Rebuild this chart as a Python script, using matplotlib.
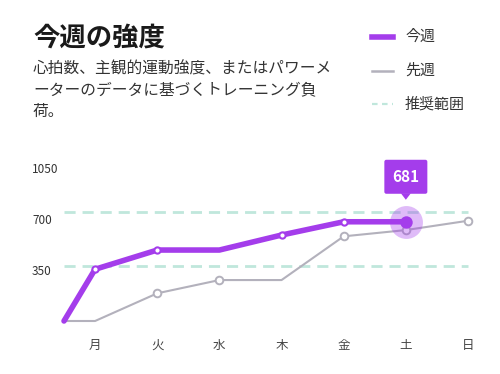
import numpy as np
import matplotlib
matplotlib.use("Agg")
import matplotlib.pyplot as plt
from matplotlib.lines import Line2D
from matplotlib.patches import FancyBboxPatch, Polygon
from matplotlib.transforms import IdentityTransform

plt.rcParams['font.family'] = ['Noto Sans CJK JP', 'DejaVu Sans']

# データ
days = ['月', '火', '水', '木', '金', '土', '日']
this_week = [355, 487, 487, 590, 681, 681]          # 土まで
last_week = [0, 190, 281, 281, 581, 624, 688]
start_value = 0                                      # 週の始まり
range_low, range_high = 375, 750                     # 推奨範囲
y_ticks = [350, 700, 1050]
highlight_idx = 5                                    # 土

PURPLE = '#A43DEB'
GRAY = '#B3B1BC'
TEAL = '#C0E7DC'

fig = plt.figure(figsize=(5, 3.74), dpi=100)
ax = fig.add_axes([64 / 500, 1 - 321 / 374, 404 / 500, 153 / 374])

x_days = np.arange(len(days))
x_start = -0.5

# 推奨範囲
for v in (range_low, range_high):
    ax.plot([x_start, x_days[-1]], [v, v], color=TEAL, lw=2, dashes=(4, 2.5), zorder=1,
            clip_on=False)

# 先週
xs_last = np.concatenate([[x_start], x_days[:len(last_week)]])
ys_last = [start_value] + last_week
mark_last = [i for i in range(1, len(ys_last)) if ys_last[i] != ys_last[i - 1]]
ax.plot(xs_last, ys_last, color=GRAY, lw=1.5, zorder=2, clip_on=False,
        marker='o', markevery=mark_last, ms=5.5, mfc='white', mec=GRAY, mew=1.4)

# 今週
xs_this = np.concatenate([[x_start], x_days[:len(this_week)]])
ys_this = [start_value] + this_week
mark_this = [i for i in range(1, len(ys_this) - 1) if ys_this[i] != ys_this[i - 1]]
ax.plot(xs_this, ys_this, color=PURPLE, lw=4, zorder=3, solid_joinstyle='round',
        solid_capstyle='round', clip_on=False)
ax.plot(xs_this[mark_this], np.array(ys_this)[mark_this], 'o', ms=4.5, mfc='white',
        mec=PURPLE, mew=1.5, zorder=4, lw=0, clip_on=False)

# ハイライト
hx, hy = x_days[highlight_idx], this_week[highlight_idx]
ax.scatter([hx], [hy], s=560, color=PURPLE, alpha=0.35, lw=0, zorder=5, clip_on=False)
ax.scatter([hx], [hy], s=80, color=PURPLE, lw=0, zorder=6, clip_on=False)

ax.set_xlim(-0.5, 6)
ax.set_ylim(0, 1050)
for s in ax.spines.values():
    s.set_visible(False)
ax.set_xticks(x_days)
ax.set_xticklabels(days)
ax.set_yticks(y_ticks)
ax.set_yticklabels([str(t) for t in y_ticks])
ax.tick_params(axis='x', length=0, pad=13, labelsize=9, labelcolor='#444444')
ax.tick_params(axis='y', length=0, pad=23, labelsize=8.5, labelcolor='#333333')
for lbl in ax.get_yticklabels():
    lbl.set_horizontalalignment('left')

# ツールチップ
px, py = ax.transData.transform((hx, hy))
bw, bh = 43, 34
bx, by = px - bw / 2, py + 28
box = FancyBboxPatch((bx, by), bw, bh, boxstyle='round,pad=0,rounding_size=2',
                     fc=PURPLE, ec='none', transform=IdentityTransform(), clip_on=False)
fig.patches.append(box)
tri = Polygon([[px - 5, by + 0.5], [px + 5, by + 0.5], [px, by - 6]], closed=True,
              fc=PURPLE, ec='none', transform=IdentityTransform(), clip_on=False)
fig.patches.append(tri)
fig.text(px / 500, (by + bh / 2) / 374, str(this_week[highlight_idx]), color='white',
         fontsize=11, fontweight='bold', ha='center', va='center')

# タイトル
fig.text(33 / 500, 1 - 38 / 374, '今週の強度', fontsize=19, fontweight='bold',
         color='#1a1a1a', va='center', ha='left')
fig.text(33 / 500, 1 - 61 / 374,
         '心拍数、主観的運動強度、またはパワーメ\nーターのデータに基づくトレーニング負\n荷。',
         fontsize=11.3, color='#333333', va='top', ha='left', linespacing=1.3)

# 凡例
legend_items = [
    ('今週', dict(color=PURPLE, lw=4)),
    ('先週', dict(color=GRAY, lw=1.8)),
    ('推奨範囲', dict(color=TEAL, lw=1.6, dashes=(2.5, 2))),
]
for i, (name, style) in enumerate(legend_items):
    y = 1 - (37 + i * 33.5) / 374
    fig.add_artist(Line2D([372 / 500, 393 / 500], [y, y], transform=fig.transFigure, **style))
    fig.text(405 / 500, y, name, fontsize=10.8, color='#333333', va='center', ha='left')

fig.savefig('out.png', dpi=100)
